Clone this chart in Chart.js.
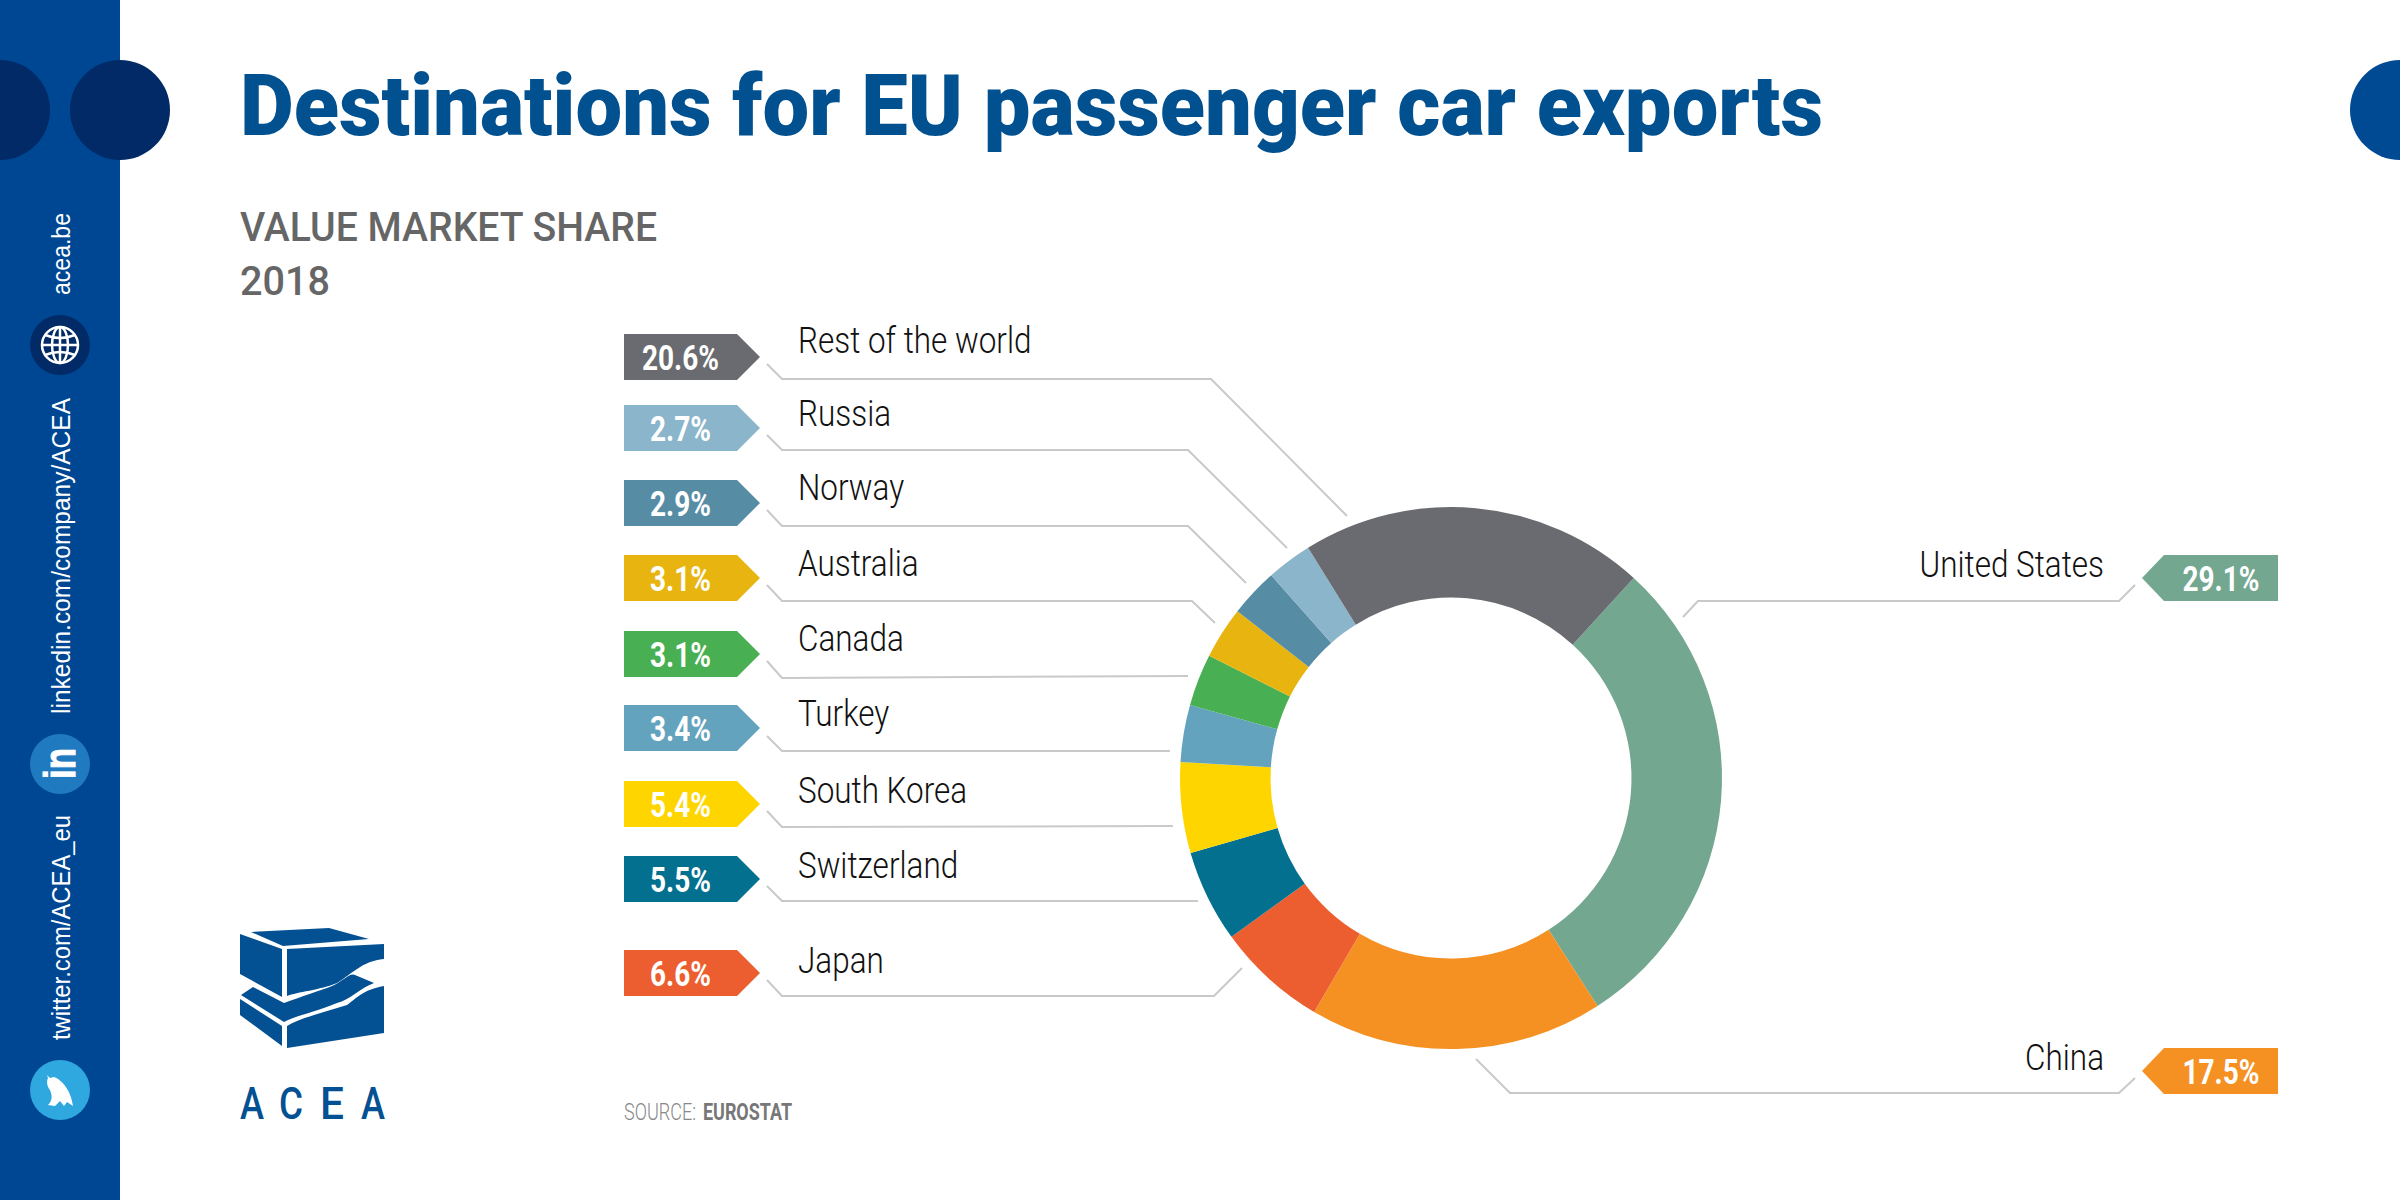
<!DOCTYPE html>
<html>
<head>
<meta charset="utf-8">
<script src="https://cdn.jsdelivr.net/npm/chart.js@4"></script>
<style>
  html, body { margin: 0; padding: 0; background: #fff; }
  #page { position: relative; width: 2400px; height: 1200px; overflow: hidden; background: #fff; }
  #overlay { position: absolute; left: 0; top: 0; }
  #donut { position: absolute; left: 1151px; top: 478px; }
</style>
</head>
<body>
<div id="page">
  <svg id="overlay" width="2400" height="1200" xmlns="http://www.w3.org/2000/svg"></svg>
  <canvas id="donut" width="600" height="600"></canvas>
</div>
<script>
// data, clockwise from the top right
const categories = ["United States", "China", "Japan", "Switzerland", "South Korea", "Turkey", "Canada", "Australia", "Norway", "Russia", "Rest of the world"];
const shares = [29.1, 17.5, 6.6, 5.5, 5.4, 3.4, 3.1, 3.1, 2.9, 2.7, 20.6];
const colors = ["#73A790", "#F59123", "#EC5E2F", "#02708E", "#FFD500", "#64A3BD", "#48AF52", "#E8B510", "#578CA5", "#8BB5CA", "#6A6B70"];

// layout of the callouts, same order as categories
const chipTops = [555, 1048, 950, 856, 781, 705, 631, 555, 480, 405, 334];
const labelBaselines = [577, 1070, 973, 878, 803, 726, 651, 576, 500, 426, 353];
const leaders = [
  "2135,585 2119,601 1698,601 1683,617",
  "2135,1078 2119,1093 1510,1093 1476,1059",
  "767,980 782,996 1214,996 1242,968",
  "767,886 782,901 1198,901",
  "767,811 782,827 1173,826",
  "767,736 782,751 1170,751",
  "767,661 782,678 1188,676",
  "767,585 782,601 1192,601 1215,623",
  "767,510 782,526 1188,526 1246,583",
  "767,435 782,450 1188,450 1287,548",
  "767,364 782,379 1211,379 1347,516"
];

const svg = document.getElementById("overlay");
const NS = "http://www.w3.org/2000/svg";

function el(name, attrs, parent) {
  const node = document.createElementNS(NS, name);
  for (const k in attrs) node.setAttribute(k, attrs[k]);
  (parent || svg).appendChild(node);
  return node;
}

// real text, squeezed to a width because no condensed face is installed
function txt(str, x, y, o) {
  const t = el("text", {
    x: o.rotate ? 0 : x,
    y: o.rotate ? 0 : y,
    "font-family": o.family || "Roboto",
    "font-size": o.size,
    "font-weight": o.weight || 400,
    fill: o.fill || "#000",
    "text-anchor": o.anchor || "start"
  });
  t.textContent = str;
  let w = o.width;
  if (o.squeeze) w = t.getComputedTextLength() * o.squeeze;
  if (w) {
    t.setAttribute("textLength", w);
    t.setAttribute("lengthAdjust", o.adjust || "spacingAndGlyphs");
  }
  if (o.stroke) {
    t.setAttribute("stroke", o.fill);
    t.setAttribute("stroke-width", o.stroke);
  }
  if (o.rotate) t.setAttribute("transform", "translate(" + x + " " + y + ") rotate(-90)");
  return t;
}

// side bar and header dots
el("rect", { x: 0, y: 0, width: 120, height: 1200, fill: "#004793" });
el("circle", { cx: 0, cy: 110, r: 50, fill: "#012A66" });
el("circle", { cx: 120, cy: 110, r: 50, fill: "#012A66" });
el("circle", { cx: 2400, cy: 110, r: 50, fill: "#004A93" });

// globe icon
el("circle", { cx: 60, cy: 345, r: 30, fill: "#012A66" });
const globe = { fill: "none", stroke: "#fff", "stroke-width": 2.5 };
el("circle", Object.assign({ cx: 60, cy: 345, r: 18 }, globe));
el("ellipse", Object.assign({ cx: 60, cy: 345, rx: 8, ry: 18 }, globe));
el("line", Object.assign({ x1: 60, y1: 327, x2: 60, y2: 363 }, globe));
el("line", Object.assign({ x1: 42, y1: 345, x2: 78, y2: 345 }, globe));
el("path", Object.assign({ d: "M45 335 Q60 341 75 335 M45 355 Q60 349 75 355" }, globe));

// linkedin icon
el("circle", { cx: 60, cy: 764, r: 30, fill: "#1F7ABF" });
txt("in", 75, 779, { family: "Liberation Sans", size: 44, weight: 700, fill: "#fff", width: 31, rotate: true, stroke: 1 });

// twitter icon
el("circle", { cx: 60, cy: 1090, r: 30, fill: "#2FA8E0" });
el("path", { fill: "#fff", d: "M47 1075 L50 1078 L54 1077 C61 1079 71 1090 73 1106 L67 1102 L64 1106 L60 1101 L55 1106 L48 1105 C53 1100 52 1095 50 1090 C46 1085 47 1080 48 1078 Z" });

const sideText = { family: "Liberation Sans", size: 26, fill: "#fff", rotate: true };
txt("acea.be", 70, 295, Object.assign({ width: 82 }, sideText));
txt("linkedin.com/company/ACEA", 70, 714, Object.assign({ width: 316 }, sideText));
txt("twitter.com/ACEA_eu", 70, 1040, Object.assign({ width: 225 }, sideText));

// headings
txt("Destinations for EU passenger car exports", 240, 135, { size: 86, weight: 900, fill: "#01508F", width: 1583 });
txt("VALUE MARKET SHARE", 240, 241, { size: 41, weight: 500, fill: "#666", width: 417 });
txt("2018", 240, 295, { size: 41, weight: 500, fill: "#666", width: 90 });

// logo
const logoBlue = "#035092";
el("path", { fill: logoBlue, d: "M251 932 L329 928 L369 939 L283 946 Z" });
el("path", { fill: logoBlue, d: "M240 934 L282 949 L282 997 L240 974 Z" });
el("path", { fill: logoBlue, d: "M287 949 L384 944 L384 959 C362 961 352 974 337 983 C320 990 297 992 287 996 Z" });
el("path", { fill: logoBlue, d: "M241 995 L253 987 L284 1003 C300 997 322 990 332 986 C342 982 350 972 355 975 L374 983 C360 988 350 1000 337 1003 C315 1012 298 1015 284 1022 Z" });
el("path", { fill: logoBlue, d: "M240 999 L282 1026 L282 1046 L240 1015 Z" });
el("path", { fill: logoBlue, d: "M287 1026 C300 1018 325 1012 347 1005 C357 998 362 990 384 986 L384 1033 L287 1048 Z" });
const logoLetters = ["A", "C", "E", "A"];
const logoX = [240, 279, 320, 361];
logoLetters.forEach((c, i) => {
  txt(c, logoX[i], 1119, { size: 45, weight: 500, fill: logoBlue, width: 24 });
});

// source
txt("SOURCE:", 624, 1120, { size: 23, weight: 300, fill: "#888", width: 72 });
txt("EUROSTAT", 703, 1120, { size: 23, weight: 700, fill: "#777", width: 89 });

// leader lines
leaders.forEach((pts) => {
  el("polyline", { points: pts, fill: "none", stroke: "#c9c9c9", "stroke-width": 2 });
});

// callouts
const chipH = 46;
categories.forEach((name, i) => {
  const top = chipTops[i];
  const mid = top + chipH / 2;
  const right = i < 2; // the two big markets are on the right hand side
  const pts = right
    ? [[2142, mid], [2164, top], [2278, top], [2278, top + chipH], [2164, top + chipH]]
    : [[624, top], [737, top], [760, mid], [737, top + chipH], [624, top + chipH]];
  el("polygon", { points: pts.map((p) => p.join(",")).join(" "), fill: colors[i] });

  txt(shares[i].toFixed(1) + "%", right ? 2221 : 680.5, top + 36, {
    size: 35, weight: 700, fill: "#fff", anchor: "middle", squeeze: 0.8
  });
  txt(name, right ? 2104 : 798, labelBaselines[i], {
    size: 37, weight: 300, fill: "#111", anchor: right ? "end" : "start", squeeze: 0.85
  });
});

const donut = new Chart(document.getElementById("donut"), {
  type: "doughnut",
  data: {
    labels: categories,
    datasets: [{ data: shares, backgroundColor: colors, borderWidth: 0 }]
  },
  options: {
    responsive: false,
    animation: false,
    devicePixelRatio: 1,
    rotation: 42.4,
    cutout: "66.6%",
    layout: { padding: 29 },
    plugins: { legend: { display: false }, tooltip: { enabled: false } }
  }
});
</script>
</body>
</html>
